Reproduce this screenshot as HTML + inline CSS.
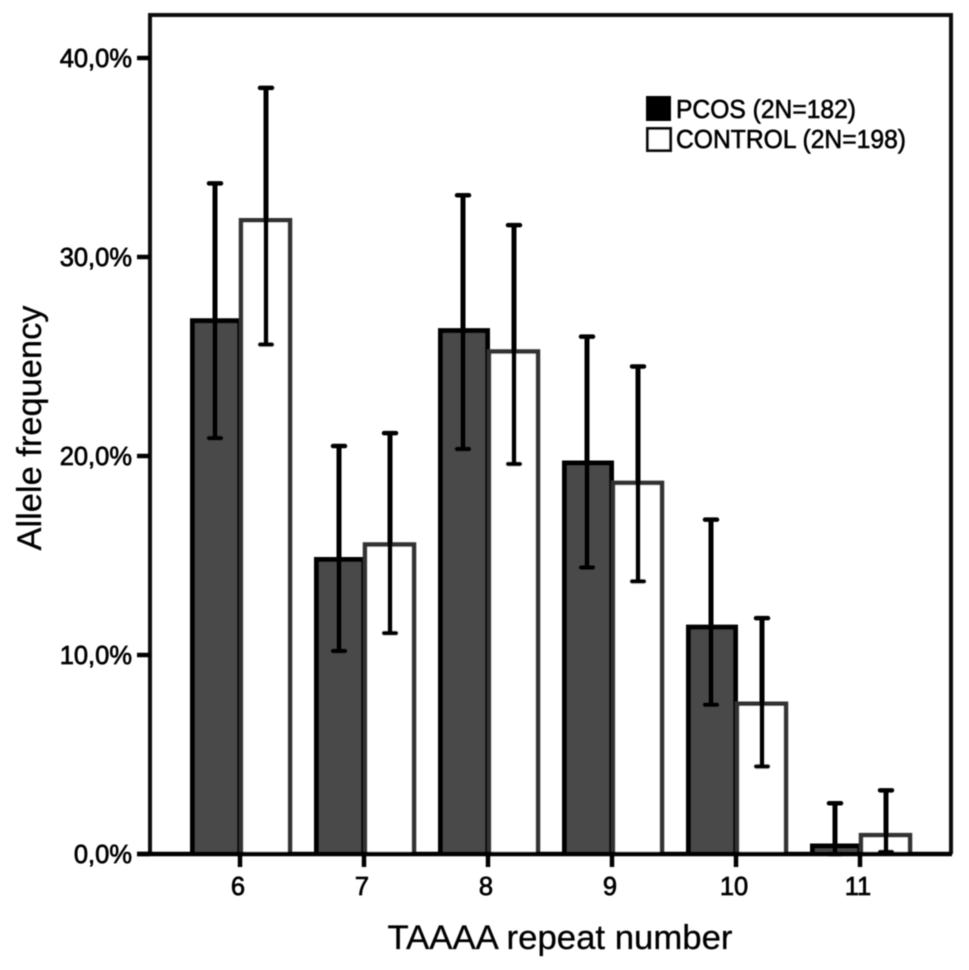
<!DOCTYPE html>
<html>
<head>
<meta charset="utf-8">
<style>
html,body{margin:0;padding:0;background:#fff;width:969px;height:970px;overflow:hidden}
svg{display:block}
text{font-family:"Liberation Sans",sans-serif;fill:#050505}
</style>
</head>
<body>
<svg id="chart" width="969" height="970" viewBox="0 0 969 970" xmlns="http://www.w3.org/2000/svg">
<defs><filter id="soft" x="-5%" y="-5%" width="110%" height="110%"><feGaussianBlur stdDeviation="0.6"/></filter></defs>
<rect width="969" height="970" fill="#fff"/>
<g id="plot" filter="url(#soft)"></g>
<g filter="url(#soft)">
<rect x="646" y="96" width="25" height="25" fill="#050505"/>
<text x="676" y="118" font-size="26" textLength="180" lengthAdjust="spacingAndGlyphs" stroke="#050505" stroke-width="0.6">PCOS (2N=182)</text>
<rect x="647.5" y="128.5" width="23" height="22" fill="#fff" stroke="#0a0a0a" stroke-width="3"/>
<text x="676" y="148" font-size="26" textLength="230" lengthAdjust="spacingAndGlyphs" stroke="#050505" stroke-width="0.6">CONTROL (2N=198)</text>
</g>
<text x="560" y="949" font-size="34" text-anchor="middle" textLength="345" lengthAdjust="spacingAndGlyphs" stroke="#050505" stroke-width="0.3" filter="url(#soft)">TAAAA repeat number</text>
<text transform="translate(41,428) rotate(-90)" font-size="34" text-anchor="middle" textLength="245" lengthAdjust="spacingAndGlyphs" stroke="#050505" stroke-width="0.3" filter="url(#soft)">Allele frequency</text>
</svg>
<script>
var categories = ['6', '7', '8', '9', '10', '11'];
var pcosValues = [26.9, 14.9, 26.4, 19.75, 11.5, 0.5];
var controlValues = [31.9, 15.6, 25.3, 18.7, 7.6, 1.0];
var pcosUpper = [33.7, 20.5, 33.1, 26.0, 16.8, 2.55];
var pcosLower = [20.9, 10.2, 20.35, 14.4, 7.5, 0];
var controlUpper = [38.5, 21.15, 31.6, 24.5, 11.85, 3.2];
var controlLower = [25.6, 11.1, 19.6, 13.7, 4.4, 0.1];
var yTicks = [0, 10, 20, 30, 40];
var yTickLabels = ['0,0%', '10,0%', '20,0%', '30,0%', '40,0%'];

var NS = 'http://www.w3.org/2000/svg';
var plot = document.getElementById('plot');
function yScale(v) { return 854 - v * 19.9; }
function xScale(i) { return 240 + i * 124; }
var BAR_W = 51;

function make(tag, attrs, name, parent) {
  var el = document.createElementNS(NS, tag);
  for (var k in attrs) { el.setAttribute(k, attrs[k]); }
  
  
  (parent || plot).appendChild(el);
  return el;
}

function drawBar(x, v, cat, isPcos) {
  var y = yScale(v), h = 854 - y;
  var name = (isPcos ? 'bar-pcos-' : 'bar-control-') + cat;
  if (isPcos) {
    make('rect', {x: x, y: y, width: BAR_W, height: h, fill: '#484848'}, name);
    make('path', {d: 'M' + (x + 2.5) + ' 854V' + (y + 2) + 'H' + (x + BAR_W - 1.5) + 'V854', fill: 'none', stroke: '#020202', 'stroke-width': 5}, name + '-outline');
  } else {
    make('rect', {x: x, y: y, width: BAR_W, height: h, fill: '#fff'}, name);
    make('path', {d: 'M' + (x + 1) + ' 854V' + (y + 1) + 'H' + (x + BAR_W - 1) + 'V854', fill: 'none', stroke: '#303030', 'stroke-width': 4.5}, name + '-outline');
  }
}

function drawError(x, up, lo, name) {
  var yu = yScale(up), yl = yScale(lo);
  make('line', {x1: x, x2: x, y1: yu, y2: yl, stroke: '#030303', 'stroke-width': 5}, 'error-line-' + name);
  make('line', {x1: x - 6, x2: x + 6, y1: yu, y2: yu, stroke: '#030303', 'stroke-width': 4.5, 'stroke-linecap': 'round'}, 'error-cap-upper-' + name);
  make('line', {x1: x - 6, x2: x + 6, y1: yl, y2: yl, stroke: '#030303', 'stroke-width': 4.5, 'stroke-linecap': 'round'}, 'error-cap-lower-' + name);
}

categories.forEach(function (cat, i) {
  var cx = xScale(i);
  drawBar(cx - BAR_W + 1, pcosValues[i], cat, true);
  drawBar(cx, controlValues[i], cat, false);
});
categories.forEach(function (cat, i) {
  var cx = xScale(i);
  drawError(cx - 25, pcosUpper[i], pcosLower[i], 'pcos-' + cat);
  drawError(cx + 26, controlUpper[i], controlLower[i], 'control-' + cat);
});

make('path', {d: 'M150 854V15H951V854', fill: 'none', stroke: '#101010', 'stroke-width': 4}, 'plot-frame');
make('line', {x1: 137, x2: 952, y1: 854, y2: 854, stroke: '#030303', 'stroke-width': 4.5}, 'x-axis-line');

yTicks.forEach(function (t, i) {
  var y = yScale(t);
  make('line', {x1: 137, x2: 150, y1: y, y2: y, stroke: '#030303', 'stroke-width': 4.5}, 'y-tick-' + t);
  var label = make('text', {x: 132, y: y + 9, 'font-size': 25.5, 'text-anchor': 'end', stroke: '#050505', 'stroke-width': 0.7}, 'y-tick-label-' + t);
  label.textContent = yTickLabels[i];
});

categories.forEach(function (cat, i) {
  var cx = xScale(i);
  make('line', {x1: cx, x2: cx, y1: 854, y2: 867, stroke: '#030303', 'stroke-width': 4.5}, 'x-tick-' + cat);
  var label = make('text', {x: cx - 2, y: 895, 'font-size': 25.5, 'text-anchor': 'middle', stroke: '#050505', 'stroke-width': 0.7}, 'x-tick-label-' + cat);
  label.textContent = cat;
});
</script>
</body>
</html>
